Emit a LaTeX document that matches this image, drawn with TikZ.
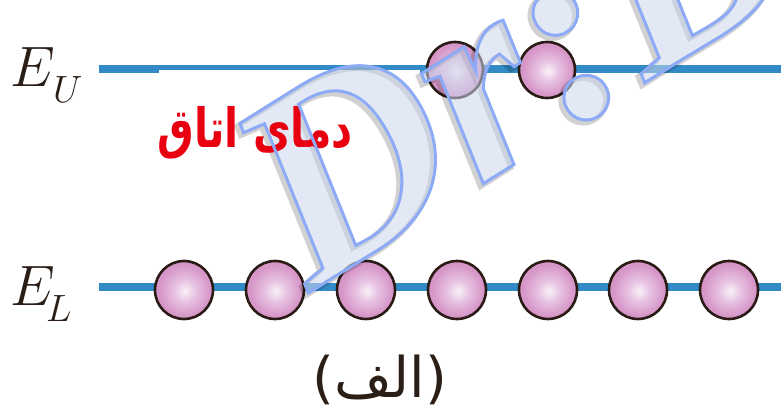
\RequirePackage{fix-cm}
\documentclass[tikz,border=0pt]{standalone}
\usepackage{fontspec}
\newfontfamily\arabicfont[Script=Arabic]{DejaVu Sans}
\newfontfamily\dejavu{DejaVu Sans}
\newfontfamily\wmfont{Liberation Serif}
\TeXXeTstate=1
\definecolor{levelblue}{RGB}{50,139,198}
\definecolor{ballrim}{RGB}{42,27,20}
\definecolor{ballpink}{RGB}{214,150,200}
\definecolor{ballmid}{RGB}{232,196,226}
\definecolor{ballhi}{RGB}{250,242,249}
\definecolor{roomred}{RGB}{232,0,16}
\definecolor{labeldark}{RGB}{42,30,22}
\definecolor{wmfillc}{RGB}{202,215,235}
\definecolor{wmlinec}{RGB}{140,170,245}
\pgfdeclareradialshading{ballshade}{\pgfpoint{1bp}{-1bp}}{%
  color(0bp)=(ballhi); color(9bp)=(ballmid); color(22bp)=(ballpink); color(25bp)=(ballpink); color(50bp)=(ballpink)}
\tikzset{
  level/.style={draw=levelblue, line width=7.5pt},
  levelthin/.style={draw=levelblue, line width=5.5pt},
  ball/.style={circle, draw=ballrim, line width=2.6pt, shading=ballshade, minimum size=56pt, inner sep=0pt},
  elabel/.style={anchor=base west, inner sep=0pt, text=labeldark, font=\fontsize{57}{60}\selectfont},
  esub/.style={anchor=base west, inner sep=0pt, text=labeldark, font=\fontsize{38}{40}\selectfont},
  wmtext/.style={anchor=base west, inner sep=0pt, rotate=32, font=\wmfont\bfseries\itshape\fontsize{275}{275}\selectfont}
}
\newcommand{\wmstring}{Dr:B}
\begin{document}
\begin{tikzpicture}[x=1pt,y=-1pt]
\useasboundingbox (0,0) rectangle (781,406);
\begin{scope}
\clip (0,0) rectangle (781,406);
% level lines
\coordinate (u0) at (99,68.8);
\coordinate (u1) at (159,68.8);
\coordinate (u2) at (159,67.7);
\coordinate (u3) at (420,67.7);
\coordinate (u4) at (420,68.8);
\coordinate (u5) at (781,68.8);
\draw[level] (u0) -- (u1);
\draw[levelthin] (u2) -- (u3);
\draw[level] (u4) -- (u5);
\coordinate (l0) at (99,287);
\coordinate (l1) at (781,287);
\draw[level, line width=8pt] (l0) -- (l1);
% labels
\node[elabel] (EU) at (10,87) {$E$};
\node[esub] (EUs) at (53,103) {$U$};
\node[elabel] (EL) at (10,305) {$E$};
\node[esub] (ELs) at (46,321) {$L$};
% upper particles
\node[ball] (up1) at (455,70) {};
\node[ball] (up2) at (547,70) {};
% lower particles
\foreach \i/\x in {1/184,2/275,3/366,4/457,5/548,6/638,7/729}
  \node[ball, minimum size=58pt] (low\i) at (\x,290) {};
% caption
\node[anchor=base, inner sep=0pt, text=labeldark, font=\dejavu\fontsize{56}{60}\selectfont] (cap) at (380,397) {({\arabicfont\beginR الف\endR})};
% watermark shadow and fill
\node[wmtext, text=black, opacity=0.18] (wmshadow) at (307,295) {\special{pdf:literal direct 1 Tr 5 w}\wmstring\special{pdf:literal direct 0 Tr}};
\node[wmtext, text=wmfillc, opacity=0.55] (wmfill) at (310,292) {\wmstring};
% room temperature text
\node[anchor=base, inner sep=0pt, text=roomred, font=\arabicfont\bfseries\fontsize{54}{56}\selectfont] (room) at (255,148) {\scalebox{0.76}[1]{\beginR دمای اتاق\endR}};
% watermark outline
\node[wmtext, text=wmlinec] (wmline) at (310,292) {\special{pdf:literal direct 1 Tr 3 w}\wmstring\special{pdf:literal direct 0 Tr}};
\end{scope}
\end{tikzpicture}
\end{document}
